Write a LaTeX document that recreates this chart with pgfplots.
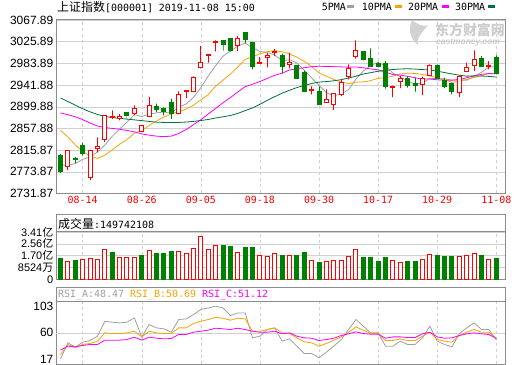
\documentclass[border=0pt]{standalone}
\usepackage{pgfplots}
\pgfplotsset{compat=1.18}
\usepackage{pgfplotstable}
\usepackage{fontspec}
\setmainfont{Liberation Sans}
\newfontfamily\cjk{Noto Sans CJK SC}
\newfontfamily\mono{DejaVu Sans Mono}
\definecolor{kred}{HTML}{FF0000}
\definecolor{kgreen}{HTML}{008000}
\definecolor{cma5}{HTML}{A0A0A0}
\definecolor{cma10}{HTML}{F5A500}
\definecolor{cma20}{HTML}{FF00FF}
\definecolor{cma30}{HTML}{00703C}
\definecolor{gridc}{HTML}{D0D0D0}
\definecolor{framec}{HTML}{8C8C8C}

\pgfplotstableread{
i o h l c
1 2784.9 2815.5 2777.0 2814.99
4 2762.3 2816.5 2757.7 2815.80
5 2818.5 2840.5 2811.4 2823.82
6 2836.6 2884.0 2832.0 2883.10
7 2879.0 2892.8 2876.6 2880.00
8 2876.6 2886.3 2873.4 2880.33
10 2886.3 2902.5 2883.0 2897.43
11 2852.7 2864.4 2851.4 2863.57
12 2880.5 2919.0 2879.9 2902.19
16 2886.3 2929.6 2885.0 2924.11
17 2929.0 2931.5 2916.7 2930.15
18 2930.0 2958.7 2928.3 2957.41
19 2975.5 3017.5 2974.2 2985.86
20 2998.7 3002.0 2985.2 2999.60
21 3024.0 3028.5 3007.0 3024.74
24 3019.4 3036.9 3007.8 3031.24
27 2985.0 2996.2 2984.5 2985.66
28 2994.9 3003.9 2976.2 2999.28
29 3006.0 3011.3 2998.0 3006.45
31 2981.9 3004.6 2974.2 2985.34
34 2930.9 2939.3 2923.8 2932.17
36 2908.3 2933.5 2908.0 2913.57
37 2904.4 2926.4 2893.4 2924.86
38 2923.8 2952.9 2920.6 2947.71
39 2958.0 2981.9 2952.9 2973.66
40 2996.8 3028.5 2992.9 3007.88
45 2936.7 2940.6 2918.6 2939.62
46 2948.4 2959.3 2936.0 2954.38
49 2943.2 2958.0 2922.5 2954.93
50 2961.3 2982.0 2960.0 2980.05
54 2927.1 2960.6 2918.6 2958.20
55 2967.7 2985.2 2967.7 2975.49
56 2980.6 3009.1 2969.0 2991.56
58 2978.0 2988.4 2972.3 2978.71
}\candR

\pgfplotstableread{
i o h l c
0 2805.5 2808.1 2772.0 2774.75
2 2798.5 2802.3 2790.0 2797.26
3 2824.9 2830.0 2805.5 2808.91
9 2888.2 2889.5 2875.0 2883.44
13 2901.2 2905.7 2889.5 2893.76
14 2896.7 2898.6 2883.0 2890.92
15 2907.6 2915.4 2876.6 2886.24
22 3027.8 3028.5 3008.4 3021.20
23 3032.3 3033.0 3006.5 3008.81
25 3043.3 3044.6 3022.6 3030.75
26 3024.0 3025.3 2972.3 2978.12
30 2999.4 3002.6 2964.5 2977.08
32 2980.0 2980.5 2955.0 2955.43
33 2965.8 2970.0 2928.5 2929.09
35 2929.6 2939.3 2905.0 2905.19
41 3007.1 3007.8 2989.7 2991.05
42 2992.9 3012.9 2978.0 2978.71
43 2983.2 2987.0 2976.0 2977.33
44 2983.9 2988.4 2934.8 2938.14
47 2954.2 2959.3 2936.7 2941.62
48 2945.1 2956.1 2929.0 2940.92
51 2980.0 2981.3 2954.0 2954.18
52 2951.6 2956.1 2936.0 2939.32
53 2945.1 2946.4 2923.8 2929.06
57 2992.9 2998.0 2978.0 2978.60
59 2994.9 2999.4 2962.6 2964.18
}\candG

\pgfplotstableread{
i ma5 ma10 ma20 ma30
0 2787.41 2853.95 2888.0 2917.0
1 2786.11 2841.35 2884.5 2910.0
2 2790.05 2825.84 2880.5 2903.0
3 2798.09 2813.48 2875.0 2896.0
4 2802.34 2804.18 2868.5 2890.0
5 2812.16 2799.78 2862.5 2885.0
6 2825.78 2805.94 2859.5 2881.0
7 2842.33 2816.19 2858.0 2879.0
8 2856.61 2827.35 2856.3 2877.5
9 2870.14 2836.24 2854.0 2876.0
10 2884.86 2848.51 2851.23 2874.5
11 2880.95 2853.37 2847.36 2873.0
12 2885.39 2863.86 2844.85 2871.5
13 2888.08 2872.34 2842.91 2870.0
14 2889.57 2879.86 2842.02 2869.5
15 2887.34 2886.10 2842.94 2869.3
16 2899.44 2890.20 2848.07 2869.5
17 2905.04 2895.21 2855.70 2870.2
18 2917.77 2902.92 2865.14 2871.5
19 2936.75 2913.16 2874.70 2873.2
20 2959.43 2923.38 2885.94 2875.28
21 2979.55 2939.50 2896.43 2878.07
22 2997.76 2951.40 2907.63 2880.37
23 3008.04 2962.90 2917.62 2882.91
24 3017.12 2976.94 2928.40 2886.99
25 3023.35 2991.39 2938.74 2892.42
26 3014.02 2996.79 2943.49 2897.64
27 3006.92 3002.34 2948.78 2904.58
28 3005.01 3006.53 2954.72 2912.27
29 3000.05 3008.59 2960.87 2919.33
30 2989.32 3006.33 2964.86 2926.07
31 2990.76 3002.39 2970.95 2931.75
32 2984.72 2995.82 2973.61 2937.02
33 2970.68 2987.84 2975.37 2941.03
34 2955.82 2977.94 2977.44 2944.91
35 2941.44 2965.38 2978.38 2947.62
36 2927.09 2958.93 2977.86 2948.64
37 2920.98 2952.85 2977.59 2950.13
38 2924.70 2947.69 2977.11 2952.38
39 2933.00 2944.41 2976.50 2955.39
40 2953.54 2947.49 2976.91 2959.07
41 2969.03 2948.06 2975.23 2963.32
42 2979.80 2950.39 2973.10 2965.87
43 2985.73 2955.21 2971.53 2968.65
44 2978.62 2955.81 2966.87 2970.23
45 2964.97 2959.25 2962.32 2972.01
46 2957.64 2963.33 2961.13 2973.02
47 2950.22 2965.01 2958.93 2973.40
48 2942.94 2964.33 2956.01 2972.85
49 2946.29 2962.46 2953.43 2971.82
50 2954.38 2959.68 2953.58 2971.17
51 2954.34 2955.99 2952.02 2968.81
52 2953.88 2952.05 2951.22 2966.08
53 2951.51 2947.22 2951.22 2963.43
54 2952.16 2949.23 2952.52 2960.99
55 2951.25 2952.82 2956.03 2959.15
56 2958.73 2956.53 2959.93 2959.60
57 2966.58 2960.23 2962.62 2959.36
58 2976.51 2964.01 2964.17 2958.68
59 2977.71 2964.94 2963.70 2957.27
}\ma

\pgfplotstableread{
i v
1 1.31
3 1.45
4 1.53
5 1.45
6 2.18
8 1.55
9 1.55
10 1.60
12 2.11
16 2.03
17 1.89
18 2.25
19 3.05
20 2.18
21 2.47
24 1.96
27 1.69
28 1.62
29 1.84
31 1.69
34 1.33
36 1.26
37 1.33
38 1.33
39 1.62
40 2.13
45 1.33
46 1.19
49 1.40
50 1.77
54 1.62
55 1.69
56 1.84
58 1.40
}\volR

\pgfplotstableread{
i v
0 1.48
2 1.33
7 1.91
11 1.69
13 1.84
14 1.84
15 1.99
22 2.42
23 2.35
25 2.28
26 2.28
30 1.69
32 1.69
33 1.94
35 1.21
41 1.55
42 1.55
43 1.28
44 1.55
47 1.28
48 1.28
51 1.69
52 1.62
53 1.62
57 1.69
59 1.50
}\volG

\pgfplotstableread{
i a b c
0 17.3 24.4 31.6
1 43.6 40.9 38.1
2 36.5 35.4 37.0
3 44.7 40.9 39.2
4 47.4 42.5 40.9
5 54.5 46.3 40.9
6 79.0 60.0 48.0
7 77.5 58.9 48.0
8 76.4 58.9 48.0
9 77.5 60.0 49.0
10 84.6 62.7 52.9
11 53.4 53.4 48.0
12 73.7 62.7 52.9
13 68.2 60.0 51.2
14 66.6 58.9 50.2
15 61.1 58.9 50.7
16 81.9 68.2 57.3
17 83.0 68.2 57.3
18 90.0 75.3 61.1
19 98.3 79.1 62.7
20 101.0 81.9 64.4
21 103.8 85.7 67.7
22 101.0 84.0 66.6
23 88.4 80.8 65.5
24 92.8 84.0 67.7
25 92.8 83.0 65.5
26 51.8 62.7 62.7
27 54.5 62.7 61.1
28 65.5 65.5 61.1
29 68.2 68.2 62.7
30 46.3 60.0 58.4
31 50.2 58.9 60.0
32 38.1 51.8 54.5
33 26.1 45.2 51.8
34 26.1 43.6 51.2
35 19.0 38.1 47.4
36 28.3 42.5 49.0
37 38.1 48.0 51.2
38 49.0 53.4 55.6
39 65.5 61.1 58.4
40 81.9 69.8 61.6
41 71.0 64.4 58.9
42 60.0 58.9 57.8
43 60.0 58.9 57.8
44 38.1 47.4 51.2
45 38.1 47.4 53.4
46 46.3 50.2 53.4
47 40.9 47.4 52.3
48 40.9 47.4 52.3
49 51.8 54.5 58.4
50 71.0 61.1 61.1
51 46.3 49.0 53.4
52 40.9 46.3 51.2
53 37.0 44.7 51.8
54 58.9 55.6 55.6
55 68.2 61.1 58.4
56 76.4 65.5 60.0
57 65.5 61.1 58.4
58 65.5 61.1 57.3
59 48.47 50.69 51.12
}\rsi

\pgfplotsset{
  panel/.style={anchor=south west, scale only axis, width=449bp,
    xmin=-0.61, xmax=60.18,
    axis line style={framec, line width=1bp}, major tick length=0pt,
    xtick={3,11,19,27,35,43,51,59},
    xmajorgrids, x grid style={gridc, dash pattern=on 3bp off 3bp},
    y grid style={gridc},
    yticklabel style={font=\fontsize{12}{12}\selectfont, inner xsep=2.5bp}},
  ovl/.style={at={(56bp,171.5bp)}, anchor=south west, scale only axis,
    width=449bp, height=173.5bp, xmin=-0.61, xmax=60.18,
    ymin=2731.87, ymax=3067.89, axis lines=none, ybar stacked, bar shift=0pt},
}

\begin{document}
\begin{tikzpicture}
\path[use as bounding box] (0,0) rectangle (520bp,365bp);

% ---------- main price panel (grid, ticks, moving averages)
\begin{axis}[panel, at={(56bp,171.5bp)}, height=173.5bp,
  ymin=2731.87, ymax=3067.89, ymajorgrids,
  ytick={2731.87,2773.87,2815.87,2857.88,2899.88,2941.88,2983.89,3025.89,3067.89},
  yticklabels={2731.87,2773.87,2815.87,2857.88,2899.88,2941.88,2983.89,3025.89,3067.89},
  xticklabels={08-14,08-26,09-05,09-18,09-30,10-17,10-29,11-08},
  xticklabel style={font=\mono\fontsize{10}{10}\selectfont, text=kred, inner ysep=2.5bp}]
\addplot[cma5, line width=0.8bp] table[x=i, y=ma5] {\ma};
\addplot[cma10, line width=0.8bp] table[x=i, y=ma10] {\ma};
\addplot[cma20, line width=0.8bp] table[x=i, y=ma20] {\ma};
\addplot[cma30, line width=0.8bp] table[x=i, y=ma30] {\ma};
\end{axis}

% red candle wicks
\begin{axis}[ovl, bar width=0bp]
\addplot[draw=none, fill=none] table[x=i, y=l] {\candR};
\addplot[draw=kred, line width=1bp] table[x=i, y expr={\thisrow{h}-\thisrow{l}}] {\candR};
\end{axis}
% red candle bodies (hollow)
\begin{axis}[ovl, bar width=4bp]
\addplot[draw=none, fill=none] table[x=i, y expr={(\thisrow{o}+\thisrow{c})/2-max(abs(\thisrow{c}-\thisrow{o})/2,0.97)}] {\candR};
\addplot[draw=kred, fill=white, line width=1bp] table[x=i, y expr={2*max(abs(\thisrow{c}-\thisrow{o})/2,0.97)}] {\candR};
\end{axis}
% green candle wicks
\begin{axis}[ovl, bar width=0bp]
\addplot[draw=none, fill=none] table[x=i, y=l] {\candG};
\addplot[draw=kgreen, line width=1bp] table[x=i, y expr={\thisrow{h}-\thisrow{l}}] {\candG};
\end{axis}
% green candle bodies (filled)
\begin{axis}[ovl, bar width=4bp]
\addplot[draw=none, fill=none] table[x=i, y expr={(\thisrow{o}+\thisrow{c})/2-max(abs(\thisrow{c}-\thisrow{o})/2,0.97)}] {\candG};
\addplot[draw=kgreen, fill=kgreen, line width=1bp] table[x=i, y expr={2*max(abs(\thisrow{c}-\thisrow{o})/2,0.97)}] {\candG};
\end{axis}

% ---------- volume panel
\draw[framec, line width=1bp] (56bp,133bp) rectangle (505bp,150bp);
\node[anchor=west, inner sep=0pt] at (58bp,141.5bp) {{\cjk\fontsize{12}{12}\selectfont 成交量}{\mono\fontsize{10}{10}\selectfont :149742108}};
\begin{axis}[panel, at={(56bp,85.7bp)}, height=47.3bp,
  ymin=0, ymax=3.4096, ymajorgrids,
  ytick={0,0.8524,1.7048,2.5572,3.4096},
  yticklabels={0,8524{\cjk 万},1.70{\cjk 亿},2.56{\cjk 亿},3.41{\cjk 亿}},
  yticklabel style={font=\fontsize{11}{11}\selectfont, inner ysep=0pt},
  xticklabels={}, ybar, bar width=4bp, bar shift=0pt]
\addplot[draw=kred, fill=white, line width=1bp] table[x=i, y=v] {\volR};
\addplot[draw=kgreen, fill=kgreen, line width=1bp] table[x=i, y=v] {\volG};
\end{axis}

% ---------- RSI panel
\draw[framec, line width=1bp] (56bp,63.7bp) rectangle (505bp,77bp);
\node[anchor=west, inner sep=0pt] at (58bp,70.3bp) {\mono\fontsize{10}{10}\selectfont\textcolor{cma5}{RSI\_A:48.47} \textcolor{cma10}{RSI\_B:50.69} \textcolor{cma20}{RSI\_C:51.12}};
\begin{axis}[panel, at={(56bp,1bp)}, height=62.7bp,
  ymin=8.8, ymax=111.9,
  ytick={17,103}, yticklabels={17,103},
  extra y ticks={60}, extra y tick labels={60}, extra y tick style={grid=major},
  xticklabels={}]
\addplot[cma5, line width=0.8bp] table[x=i, y=a] {\rsi};
\addplot[cma10, line width=0.8bp] table[x=i, y=b] {\rsi};
\addplot[cma20, line width=0.8bp] table[x=i, y=c] {\rsi};
\end{axis}

% ---------- header line
\node[anchor=west, inner sep=0pt] at (57bp,357.7bp) {{\cjk\fontsize{12}{12}\selectfont 上证指数}{\mono\fontsize{10}{10}\selectfont [000001] 2019-11-08 15:00}};
\node[anchor=west, inner sep=0pt] at (321.7bp,357.7bp) {\mono\fontsize{10}{10}\selectfont 5PMA};
\fill[cma5] (347bp,356.5bp) rectangle (354bp,359.5bp);
\node[anchor=west, inner sep=0pt] at (361.7bp,357.7bp) {\mono\fontsize{10}{10}\selectfont 10PMA};
\fill[cma10] (395bp,356.5bp) rectangle (402bp,359.5bp);
\node[anchor=west, inner sep=0pt] at (408bp,357.7bp) {\mono\fontsize{10}{10}\selectfont 20PMA};
\fill[cma20] (441.7bp,356.5bp) rectangle (448.7bp,359.5bp);
\node[anchor=west, inner sep=0pt] at (455bp,357.7bp) {\mono\fontsize{10}{10}\selectfont 30PMA};
\fill[cma30] (488bp,356.5bp) rectangle (495bp,359.5bp);

% ---------- watermark
\fill[gray!35] (412bp,345bp) .. controls (418bp,340bp) and (424bp,338bp) .. (428bp,340bp)
  .. controls (422bp,332bp) and (416bp,327bp) .. (418bp,320bp)
  .. controls (410bp,326bp) and (408bp,336bp) .. (412bp,345bp) -- cycle;
\node[text=gray!40] at (470bp,334.5bp) {\cjk\bfseries\fontsize{14}{14}\selectfont 东方财富网};
\node[text=gray!40] at (468bp,322.5bp) {\bfseries\itshape\fontsize{8.5}{9}\selectfont eastmoney.com};
\end{tikzpicture}
\end{document}
